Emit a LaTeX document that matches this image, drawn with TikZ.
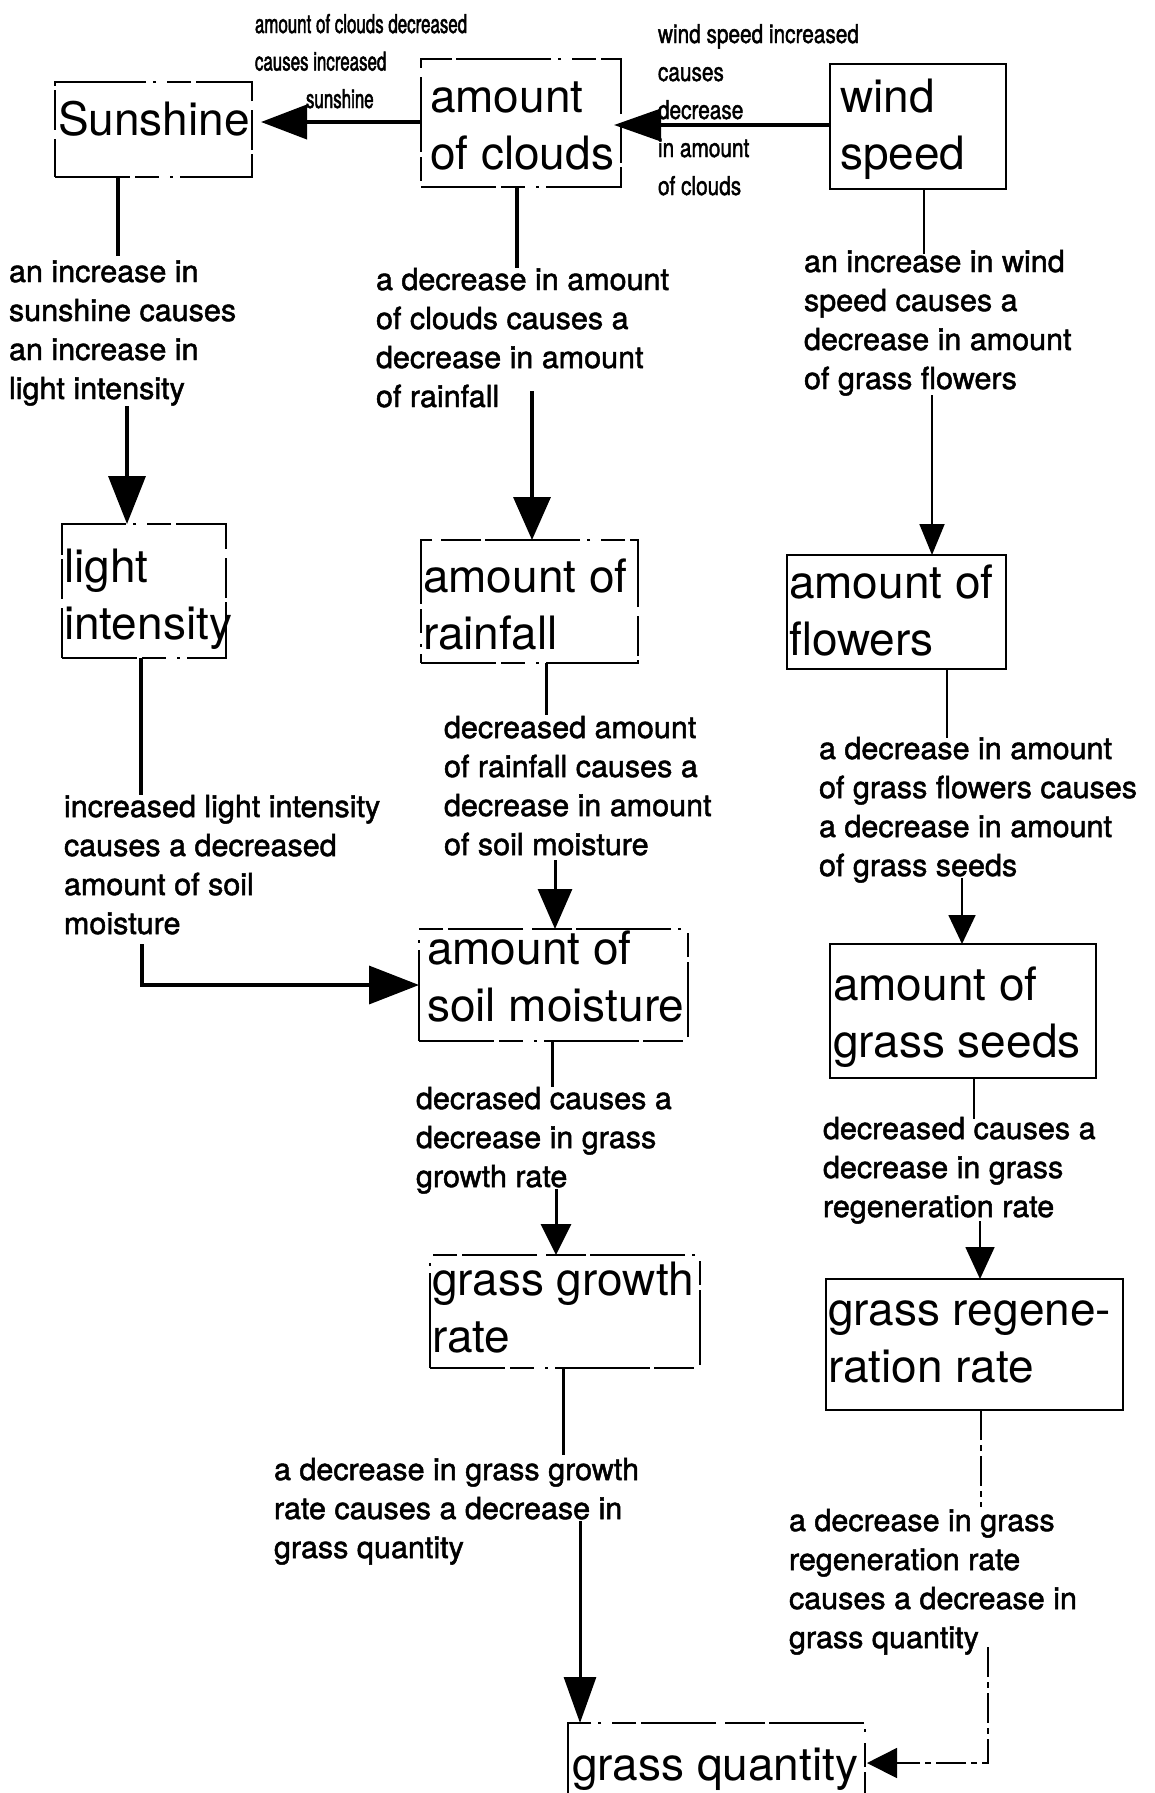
\documentclass[tikz,border=0pt]{standalone}
\usepackage{fontspec}
\setmainfont{TeX Gyre Heros}
\newfontfamily\lblface{TeX Gyre Heros}[FakeBold=1.6]
\newfontfamily\narrowface{TeX Gyre Heros}[FakeStretch=0.65,FakeBold=1.8]
\newfontfamily\semiface{TeX Gyre Heros}[FakeStretch=0.8,FakeBold=1.6]
\usetikzlibrary{arrows.meta}

% fixed-size box contents: width, height, left inset, first-baseline drop, lines
\newcommand\bxtext[5]{\parbox[t][#2pt][t]{#1pt}{\raggedright\leftskip=#3pt\relax\rule{0pt}{#4pt}#5}}
\newcommand\boxfont{\fontsize{46}{57}\selectfont}
\newcommand\lblfont{\lblface\fontsize{30.5}{39}\selectfont}
\newcommand\lbltop{\rule{0pt}{24pt}}

\tikzset{
  box/.style={draw, line width=2pt, inner sep=0pt, outer sep=0pt, anchor=north west, font=\boxfont},
  broken/.style={dash pattern=on 75pt off 5pt on 24pt off 11pt on 3pt off 7pt on 95pt off 4pt on 40pt off 9pt},
  lbl/.style={anchor=north west, inner sep=0pt, outer sep=0pt, align=left, font=\lblfont},
  toplbl/.style={anchor=north west, inner sep=0pt, outer sep=0pt, align=left},
  wide/.style={line width=4pt},
  heavy/.style={line width=3.5pt},
  medium/.style={line width=3pt},
  fine/.style={line width=1.8pt},
  brokenline/.style={line width=1.6pt, dash pattern=on 30pt off 5pt on 6pt off 5pt},
  headto/.style 2 args={-{Triangle[length=#1pt,width=#2pt]}},
}

\begin{document}
\begin{tikzpicture}[x=1pt,y=-1pt]
\useasboundingbox (0,0) rectangle (1154,1793);
\fill[white] (0,0) rectangle (1154,1793);
\clip (0,0) rectangle (1154,1793);

% ---- boxes ----
\node[box, broken] (sun) at (55,82) {\bxtext{197}{95}{3}{53}{\mbox{Sunshine}}};
\node[box, broken] (clouds) at (421,59) {\bxtext{200}{128}{9}{53}{\mbox{amount}\\\mbox{of clouds}}};
\node[box] (wind) at (830,64) {\bxtext{176}{125}{10}{48}{\mbox{wind}\\\mbox{speed}}};
\node[box, broken] (light) at (62,524) {\bxtext{164}{134}{2}{58}{\mbox{light}\\\mbox{intensity}}};
\node[box, broken] (rain) at (421,540) {\bxtext{217}{123}{2}{52}{\mbox{amount of}\\\mbox{rainfall}}};
\node[box] (flowers) at (787,555) {\bxtext{219}{114}{2}{43}{\mbox{amount of}\\\mbox{flowers}}};
\node[box, broken] (soil) at (419,929) {\bxtext{269}{112}{8}{35}{\mbox{amount of}\\\mbox{soil moisture}}};
\node[box] (seeds) at (830,944) {\bxtext{266}{134}{3}{56}{\mbox{amount of}\\\mbox{grass seeds}}};
\node[box, broken] (growth) at (430,1255) {\bxtext{270}{113}{2}{40}{\mbox{grass growth}\\\mbox{rate}}};
\node[box] (regen) at (826,1279) {\bxtext{297}{131}{2}{46}{\mbox{grass regene-}\\\mbox{ration rate}}};
\node[box, broken] (qty) at (568,1723) {\bxtext{297}{100}{4}{57}{\mbox{grass quantity}}};

% ---- connector labels ----
\node[toplbl, font=\narrowface\fontsize{26}{37.5}\selectfont] (labcs) at (255,12)
  {\rule{0pt}{21pt}amount of clouds decreased\\causes increased\\\hspace*{51pt}sunshine};
\node[toplbl, font=\semiface\fontsize{26}{38}\selectfont] (labwc) at (658,22)
  {\rule{0pt}{21pt}wind speed increased\\causes\\decrease\\in amount\\of clouds};
\node[lbl] (lab1) at (9,258) {\lbltop an increase in\\sunshine causes\\an increase in\\light intensity};
\node[lbl] (lab2) at (376,266) {\lbltop a decrease in amount\\of clouds causes a\\decrease in amount\\of rainfall};
\node[lbl] (lab3) at (804,248) {\lbltop an increase in wind\\speed causes a\\decrease in amount\\of grass flowers};
\node[lbl] (lab4) at (64,793) {\lbltop increased light intensity\\causes a decreased\\amount of soil\\moisture};
\node[lbl] (lab5) at (444,714) {\lbltop decreased amount\\of rainfall causes a\\decrease in amount\\of soil moisture};
\node[lbl] (lab6) at (819,735) {\lbltop a decrease in amount\\of grass flowers causes\\a decrease in amount\\of grass seeds};
\node[lbl] (lab7) at (416,1085) {\lbltop decrased causes a\\decrease in grass\\growth rate};
\node[lbl] (lab8) at (823,1115) {\lbltop decreased causes a\\decrease in grass\\regeneration rate};
\node[lbl] (lab9) at (274,1456) {\lbltop a decrease in grass growth\\rate causes a decrease in\\grass quantity};
\node[lbl] (lab10) at (789,1507) {\lbltop a decrease in grass\\regeneration rate\\causes a decrease in\\grass quantity};

% ---- connector bend and break points ----
\coordinate (k1) at (0,122);
\coordinate (k2) at (0,125);
\coordinate (a1) at (118,256);  \coordinate (a2) at (127,406);
\coordinate (b1) at (517,268);  \coordinate (b2) at (532,391);
\coordinate (c1) at (924,254);  \coordinate (c2) at (932,395);
\coordinate (d1) at (141,795);  \coordinate (d2) at (142,944);
\coordinate (e1) at (546,715);  \coordinate (e2) at (555,860);
\coordinate (f1) at (947,738);  \coordinate (f2) at (962,878);
\coordinate (g1) at (552,1087); \coordinate (g2) at (556,1189);
\coordinate (h1) at (974,1119); \coordinate (h2) at (980,1221);
\coordinate (i1) at (563,1455); \coordinate (i2) at (580,1521);
\coordinate (j1) at (981,1507); \coordinate (j2) at (988,1647);
\coordinate (j3) at (988,1763);

% ---- connectors ----
\draw[wide, headto={46}{34}] (clouds.west |- k1) -- ([xshift=9pt]sun.east |- k1);
\draw[wide, headto={47}{32}] (wind.west |- k2) -- ([xshift=-7pt]clouds.east |- k2);

\draw[heavy] (sun.south -| a1) -- (a1);
\draw[heavy, headto={48}{37}] (a2) -- (light.north -| a2);

\draw[heavy] (clouds.south -| b1) -- (b1);
\draw[heavy, headto={43}{37}] (b2) -- (rain.north -| b2);

\draw[fine] (wind.south -| c1) -- (c1);
\draw[fine, headto={31}{25}] (c2) -- (flowers.north -| c2);

\draw[heavy] (light.south -| d1) -- (d1);
\draw[heavy, headto={50}{38}] (d2) |- (soil.west);

\draw[medium] (rain.south -| e1) -- (e1);
\draw[medium, headto={40}{34}] (e2) -- (soil.north -| e2);

\draw[fine] (flowers.south -| f1) -- (f1);
\draw[fine, headto={29}{27}] (f2) -- (seeds.north -| f2);

\draw[medium] (soil.south -| g1) -- (g1);
\draw[medium, headto={31}{30}] (g2) -- (growth.north -| g2);

\draw[fine] (seeds.south -| h1) -- (h1);
\draw[fine, headto={32}{29}] (h2) -- (regen.north -| h2);

\draw[medium] (growth.south -| i1) -- (i1);
\draw[medium, headto={46}{32}] (i2) -- (qty.north -| i2);

\draw[brokenline] (regen.south -| j1) -- (j1);
\draw[brokenline, headto={30}{30}] (j2) -- (j3) -- ([xshift=2pt]qty.east |- j3);
\end{tikzpicture}
\end{document}
